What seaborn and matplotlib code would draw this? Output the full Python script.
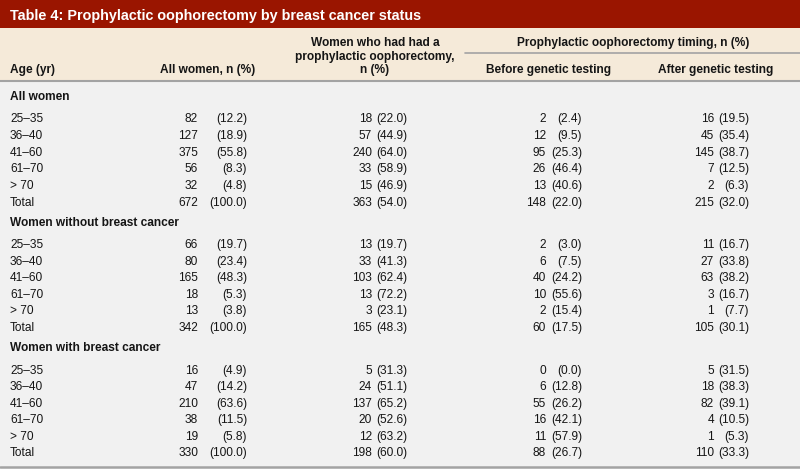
import seaborn as sns
import numpy as np
import pandas as pd
from matplotlib import pyplot as plt
import matplotlib.patches as mpatches

# table content
title = "Table 4: Prophylactic oophorectomy by breast cancer status"
sections = ["All women", "Women without breast cancer", "Women with breast cancer"]
ages = ["25\u201335", "36\u201340", "41\u201360", "61\u201370", "> 70", "Total"]

all_n = [[82, 127, 375, 56, 32, 672], [66, 80, 165, 18, 13, 342], [16, 47, 210, 38, 19, 330]]
all_pct = [[12.2, 18.9, 55.8, 8.3, 4.8, 100.0], [19.7, 23.4, 48.3, 5.3, 3.8, 100.0],
           [4.9, 14.2, 63.6, 11.5, 5.8, 100.0]]
po_n = [[18, 57, 240, 33, 15, 363], [13, 33, 103, 13, 3, 165], [5, 24, 137, 20, 12, 198]]
po_pct = [[22.0, 44.9, 64.0, 58.9, 46.9, 54.0], [19.7, 41.3, 62.4, 72.2, 23.1, 48.3],
          [31.3, 51.1, 65.2, 52.6, 63.2, 60.0]]
before_n = [[2, 12, 95, 26, 13, 148], [2, 6, 40, 10, 2, 60], [0, 6, 55, 16, 11, 88]]
before_pct = [[2.4, 9.5, 25.3, 46.4, 40.6, 22.0], [3.0, 7.5, 24.2, 55.6, 15.4, 17.5],
              [0.0, 12.8, 26.2, 42.1, 57.9, 26.7]]
after_n = [[16, 45, 145, 7, 2, 215], [11, 27, 63, 3, 1, 105], [5, 18, 82, 4, 1, 110]]
after_pct = [[19.5, 35.4, 38.7, 12.5, 6.3, 32.0], [16.7, 33.8, 38.2, 16.7, 7.7, 30.1],
             [31.5, 38.3, 39.1, 10.5, 5.3, 33.3]]

col_n = [all_n, po_n, before_n, after_n]
col_pct = [all_pct, po_pct, before_pct, after_pct]

# long table
rows = []
for s, sec in enumerate(sections):
    for r, age in enumerate(ages):
        for c in range(4):
            rows.append(dict(section=s, row=r, col=c, age=age,
                             n=col_n[c][s][r], pct=col_pct[c][s][r]))
df = pd.DataFrame(rows)

sns.set_theme(style="white")
plt.rcParams['font.family'] = ['Liberation Sans', 'DejaVu Sans']

W, H = 800, 469
fig = plt.figure(figsize=(8, 4.69), dpi=100)
ax = fig.add_axes([0, 0, 1, 1])
ax.set_xlim(0, W)
ax.set_ylim(H, 0)
ax.axis('off')

red = '#9a1500'
beige = '#f5ead9'
body = '#f1f1f1'
line = '#a3a3a3'
ink = '#151515'

# backgrounds
ax.add_patch(mpatches.Rectangle((0, 0), W, 28.5, color=red, lw=0))
ax.add_patch(mpatches.Rectangle((0, 28.5), W, 52.5, color=beige, lw=0))
ax.add_patch(mpatches.Rectangle((0, 81), W, 386, color=body, lw=0))
ax.plot([0, W], [81, 81], color=line, lw=1.5)
ax.plot([465, W], [52.7, 52.7], color=line, lw=1.2)
ax.plot([0, W], [467.5, 467.5], color=line, lw=1.8)

ax.text(10, 20, title, color='white', fontsize=10.4, fontweight='bold', va='baseline', ha='left')

hdr = dict(fontsize=8.6, fontweight='bold', color=ink, va='baseline')
ax.text(10, 73, "Age (yr)", ha='left', **hdr)
ax.text(208, 73, "All women, n (%)", ha='center', **hdr)
ax.text(375, 46, "Women who had had a", ha='center', **hdr)
ax.text(375, 60, "prophylactic oophorectomy,", ha='center', **hdr)
ax.text(375, 73, "n (%)", ha='center', **hdr)
ax.text(633, 46, "Prophylactic oophorectomy timing, n (%)", ha='center', **hdr)
ax.text(549, 73, "Before genetic testing", ha='center', **hdr)
ax.text(716, 73, "After genetic testing", ha='center', **hdr)

n_right = [198, 372, 546, 714]
p_right = [247, 407, 582, 749]
sec_base = [100, 225.5, 351]
row_off = 22.5
row_step = 16.6


def row_y(s, r):
    # whole-pixel baselines keep every glyph in a row on one line
    return float(np.round(sec_base[s] + row_off + r * row_step))


txt = dict(fontsize=8.6, color=ink, va='baseline')
for s, sec in enumerate(sections):
    ax.text(10, float(np.round(sec_base[s])), sec, ha='left', fontweight='bold', **txt)
    for r, age in enumerate(ages):
        ax.text(10, row_y(s, r), age, ha='left', **txt)

for _, d in df.iterrows():
    y = row_y(d['section'], d['row'])
    c = d['col']
    ax.text(n_right[c], y, f"{int(d['n'])}", ha='right', **txt)
    ax.text(p_right[c], y, f"({d['pct']:.1f})", ha='right', **txt)

fig.savefig('out.png', dpi=100)
